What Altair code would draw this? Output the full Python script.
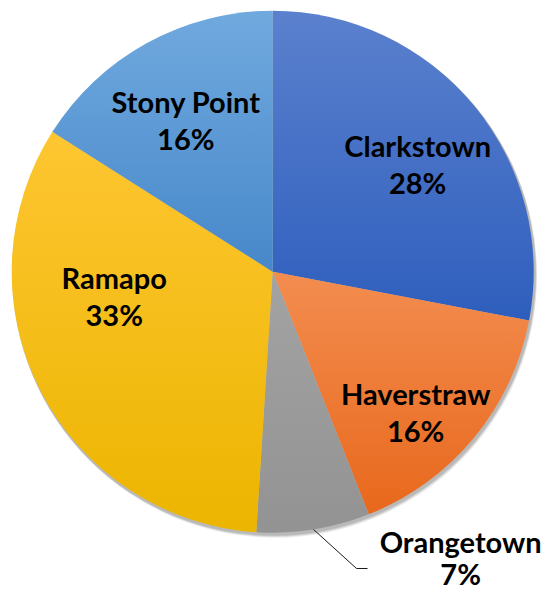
import math
import altair as alt
import pandas as pd

# ---- data ----
towns = ["Clarkstown", "Haverstraw", "Orangetown", "Ramapo", "Stony Point"]
shares = [28, 16, 7, 33, 16]

# ---- style ----
grad_top = ["#5B81CE", "#F38D50", "#A3A3A3", "#FEC631", "#70A9DE"]
grad_bot = ["#2E5EBD", "#E8681C", "#939393", "#ECB500", "#4788CA"]
FONT = "Lato"
FSIZE = 29
W, H = 533, 584
CX, CY = 264.7, 263.7
R = 261

df = pd.DataFrame({"town": towns, "share": shares, "order": list(range(len(towns)))})

base = (
    alt.Chart(df)
    .transform_window(cum="sum(share)", sort=[alt.SortField("order")])
    .transform_calculate(
        start="datum.cum - datum.share",
        mid="datum.cum - datum.share/2",
        label="datum.town + '\\n' + datum.share + '%'",
    )
)

theta_scale = alt.Scale(domain=[0, 100], range=[0, 2 * math.pi])

layers = []

# soft shadow
for off, op in [(4, 0.08), (3, 0.10), (2, 0.12)]:
    layers.append(
        alt.Chart(pd.DataFrame({"a": [0]}))
        .mark_arc(color="#000000", opacity=op)
        .encode(
            x=alt.value(CX + off * 0.6),
            y=alt.value(CY + off),
            theta=alt.value(0),
            theta2=alt.value(2 * math.pi),
            radius=alt.value(R + 1),
        )
    )

for i, t in enumerate(towns):
    grad = alt.Gradient(
        gradient="linear",
        stops=[
            alt.GradientStop(color=grad_top[i], offset=0),
            alt.GradientStop(color=grad_bot[i], offset=1),
        ],
        x1=0, y1=0, x2=0, y2=1,
    )
    layers.append(
        base.transform_filter(alt.datum.town == t)
        .mark_arc(fill=grad)
        .encode(
            x=alt.value(CX),
            y=alt.value(CY),
            theta=alt.Theta("start:Q", scale=theta_scale, stack=None),
            theta2="cum:Q",
            radius=alt.value(R),
        )
    )

# label placement adjustments (layout only)
label_r = {"Clarkstown": 170, "Haverstraw": 170, "Orangetown": 300, "Ramapo": 170, "Stony Point": 170}
label_dxdy = {
    "Clarkstown": (14, -15),
    "Haverstraw": (12, 16),
    "Orangetown": (141, -24),
    "Ramapo": (-7, -69),
    "Stony Point": (-5, -19),
}
label_lh = {"Orangetown": 32}

for t in towns:
    dx, dy = label_dxdy[t]
    layers.append(
        base.transform_filter(alt.datum.town == t)
        .mark_text(
            font=FONT, fontSize=FSIZE, fontWeight="bold", color="#000000",
            lineBreak="\n", lineHeight=label_lh.get(t, 37), align="center", baseline="middle",
            dx=dx, dy=dy,
        )
        .encode(
            x=alt.value(CX),
            y=alt.value(CY),
            theta=alt.Theta("mid:Q", scale=theta_scale, stack=None),
            radius=alt.value(label_r[t]),
            text="label:N",
        )
    )

# leader line for Orangetown (start at slice edge mid-angle)
cum = 0
for t, s in zip(towns, shares):
    if t == "Orangetown":
        mid_ang = (cum + s / 2) / 100 * 2 * math.pi
        break
    cum += s
sx = CX + R * math.sin(mid_ang)
sy = CY - R * math.cos(mid_ang)
ex, ey = sx + 43, sy + 39
layers.append(
    alt.Chart(pd.DataFrame({"a": [0]}))
    .mark_rule(color="#1a1a1a", strokeWidth=1)
    .encode(x=alt.value(sx), y=alt.value(sy), x2=alt.value(ex), y2=alt.value(ey))
)
layers.append(
    alt.Chart(pd.DataFrame({"a": [0]}))
    .mark_rule(color="#1a1a1a", strokeWidth=1)
    .encode(x=alt.value(ex), y=alt.value(ey), x2=alt.value(ex + 11), y2=alt.value(ey))
)

chart = (
    alt.layer(*layers)
    .properties(width=W, height=H, padding=0, autosize=alt.AutoSizeParams(type="none"))
    .configure_view(stroke=None)
)

chart.save("out.html", embed_options={"renderer": "svg", "actions": False})
